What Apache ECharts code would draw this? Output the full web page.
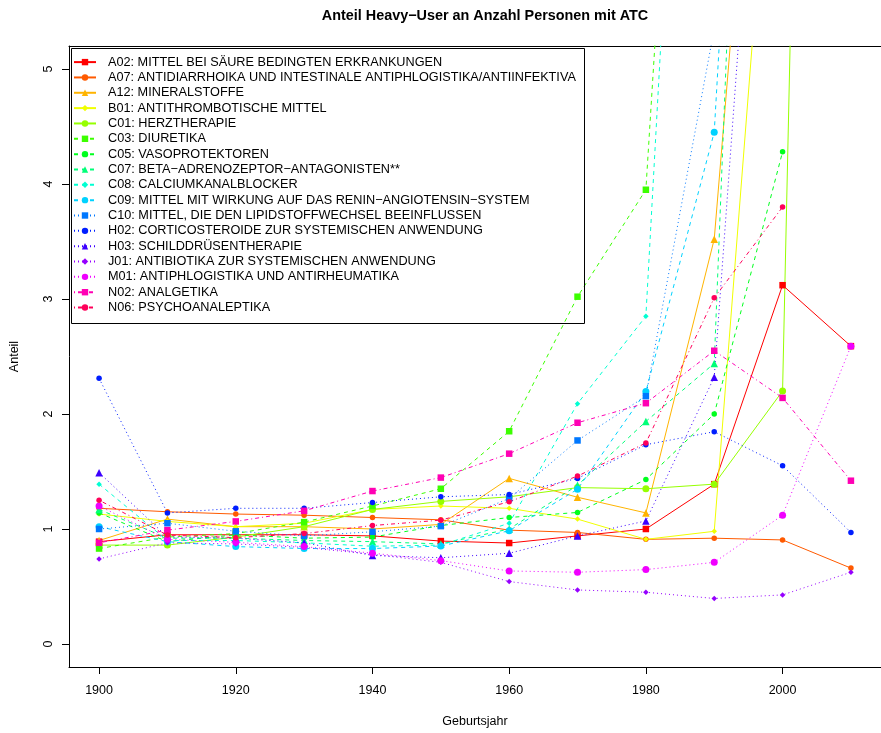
<!DOCTYPE html>
<html><head><meta charset="utf-8">
<script src="https://cdn.jsdelivr.net/npm/echarts@6/dist/echarts.min.js"></script>
<style>html,body{margin:0;padding:0;background:#fff}#c{width:881px;height:733px}</style>
</head><body><div id="c"></div>
<script>
const years = [1900,1910,1920,1930,1940,1950,1960,1970,1980,1990,2000,2010];
const xTicks = [1900,1920,1940,1960,1980,2000];
const yTicks = [0,1,2,3,4,5];
const seriesNames = [
  "A02: MITTEL BEI SÄURE BEDINGTEN ERKRANKUNGEN",
  "A07: ANTIDIARRHOIKA UND INTESTINALE ANTIPHLOGISTIKA/ANTIINFEKTIVA",
  "A12: MINERALSTOFFE",
  "B01: ANTITHROMBOTISCHE MITTEL",
  "C01: HERZTHERAPIE",
  "C03: DIURETIKA",
  "C05: VASOPROTEKTOREN",
  "C07: BETA\u2212ADRENOZEPTOR\u2212ANTAGONISTEN**",
  "C08: CALCIUMKANALBLOCKER",
  "C09: MITTEL MIT WIRKUNG AUF DAS RENIN\u2212ANGIOTENSIN\u2212SYSTEM",
  "C10: MITTEL, DIE DEN LIPIDSTOFFWECHSEL BEEINFLUSSEN",
  "H02: CORTICOSTEROIDE ZUR SYSTEMISCHEN ANWENDUNG",
  "H03: SCHILDDRÜSENTHERAPIE",
  "J01: ANTIBIOTIKA ZUR SYSTEMISCHEN ANWENDUNG",
  "M01: ANTIPHLOGISTIKA UND ANTIRHEUMATIKA",
  "N02: ANALGETIKA",
  "N06: PSYCHOANALEPTIKA"
];
const A02 = [0.89,0.95,0.95,0.95,0.94,0.895,0.878,0.94,1.0,1.39,3.12,2.59];
const A07 = [1.18,1.15,1.13,1.12,1.10,1.08,0.99,0.97,0.91,0.92,0.905,0.66];
const A12 = [0.90,1.086,1.02,1.02,1.0,1.04,1.44,1.276,1.14,3.52,10.7,null];
const B01 = [1.13,1.066,1.02,1.05,1.17,1.20,1.18,1.086,0.91,0.98,8.6,null];
const C01 = [0.86,0.86,0.93,1.02,1.17,1.24,1.28,1.36,1.35,1.39,2.20,29.5];
const C03 = [0.83,0.93,0.96,1.06,1.20,1.35,1.85,3.02,3.95,13.5,null,null];
const C05 = [1.14,0.89,0.95,0.92,0.93,1.03,1.10,1.144,1.43,2.0,4.28,null];
const C07 = [1.17,0.92,0.92,0.90,0.89,0.87,1.0,1.38,1.935,2.44,17.5,null];
const C08 = [1.39,0.90,0.90,0.88,0.85,0.86,1.05,2.09,2.85,13.7,null,null];
const C09 = [1.02,0.89,0.847,0.83,0.83,0.852,0.985,1.346,2.195,4.45,14.8,null];
const C10 = [1.0,1.05,0.98,0.94,0.976,1.025,1.265,1.77,2.155,5.35,null,null];
const H02 = [2.31,1.14,1.18,1.18,1.23,1.28,1.30,1.44,1.733,1.846,1.55,0.97];
const H03 = [1.49,0.93,0.92,0.88,0.77,0.75,0.789,0.94,1.07,2.32,10.5,null];
const J01 = [0.74,0.88,0.87,0.84,0.78,0.71,0.543,0.47,0.45,0.396,0.427,0.624];
const M01 = [1.20,0.91,0.884,0.847,0.79,0.725,0.635,0.624,0.647,0.71,1.12,2.59];
const N02 = [0.88,0.99,1.066,1.158,1.33,1.447,1.655,1.924,2.094,2.55,2.14,1.42];
const N06 = [1.25,0.947,0.925,0.96,1.03,1.077,1.237,1.46,1.748,3.01,3.80,null];
const seriesValues = [A02,A07,A12,B01,C01,C03,C05,C07,C08,C09,C10,H02,H03,J01,M01,N02,N06];

const colors = ['#FF0000','#FF5A00','#FFB400','#F0FF00','#96FF00','#3CFF00','#00FF1E','#00FF78','#00FFD2','#00D2FF','#0078FF','#001EFF','#3C00FF','#9600FF','#F000FF','#FF00B4','#FF005A'];
const dashTypes = [[1], [4,4], [1,3], [1,3,4,3]];
const symbolCycle = ['rect','circle','triangle','diamond','circle'];
const symbolSizeCycle = [6.5,5.5,7.5,5.5,7];
const FONT = '"Liberation Sans", Arial, Helvetica, sans-serif';

const series = seriesValues.map((vals, i) => {
  const lt = Math.floor(i / 5);
  return {
    name: seriesNames[i],
    type: 'line',
    data: years.map((y, k) => [y, vals[k]]),
    symbol: symbolCycle[i % 5],
    symbolSize: symbolSizeCycle[i % 5],
    showSymbol: true,
    connectNulls: false,
    clip: true,
    animation: false,
    color: colors[i],
    itemStyle: { color: colors[i], borderWidth: 0 },
    lineStyle: { color: colors[i], width: 1, type: lt === 0 ? 'solid' : dashTypes[lt] },
    emphasis: { disabled: true }
  };
});

const chart = echarts.init(document.getElementById('c'), null, { renderer: 'canvas' });
chart.setOption({
  backgroundColor: '#ffffff',
  animation: false,
  title: {
    text: 'Anteil Heavy\u2212User an Anzahl Personen mit ATC',
    left: 480, top: 4, textAlign: 'center',
    textStyle: { fontFamily: FONT, fontWeight: 'bold', fontSize: 14.4, color: '#000' }
  },
  grid: { left: 69, top: 46, width: 822, height: 623, containLabel: false },
  xAxis: [{
    type: 'value', min: 1895.6, max: 2014.4, position: 'bottom',
    name: 'Geburtsjahr', nameLocation: 'middle', nameGap: 48,
    nameTextStyle: { fontFamily: FONT, fontSize: 12.5, color: '#000' },
    axisLine: { show: true, onZero: false, lineStyle: { color: '#000', width: 1 } },
    axisTick: { show: true, inside: false, length: 7, lineStyle: { color: '#000' }, customValues: xTicks },
    axisLabel: { show: true, margin: 17, fontFamily: FONT, fontSize: 12.5, color: '#000', customValues: xTicks, formatter: v => String(v) },
    splitLine: { show: false }
  }, {
    type: 'value', min: 1895.6, max: 2014.4, position: 'top',
    axisLine: { show: true, onZero: false, lineStyle: { color: '#000', width: 1 } },
    axisTick: { show: false }, axisLabel: { show: false }, splitLine: { show: false }
  }],
  yAxis: [{
    type: 'value', min: -0.2, max: 5.2, position: 'left',
    name: 'Anteil', nameLocation: 'middle', nameGap: 48, nameRotate: 90,
    nameTextStyle: { fontFamily: FONT, fontSize: 12.5, color: '#000' },
    axisLine: { show: true, onZero: false, lineStyle: { color: '#000', width: 1 } },
    axisTick: { show: true, inside: false, length: 7, lineStyle: { color: '#000' }, customValues: yTicks },
    axisLabel: { show: true, rotate: 90, margin: 14, fontFamily: FONT, fontSize: 12.5, color: '#000', customValues: yTicks, formatter: v => String(v) },
    splitLine: { show: false }
  }],
  legend: {
    orient: 'vertical', left: 73, top: 55.6, padding: 0,
    itemWidth: 22, itemHeight: 8, itemGap: 2.34,
    textStyle: { fontFamily: FONT, fontSize: 12.7, color: '#000', padding: [0,0,0,7] },
    data: seriesNames,
    selectedMode: false
  },
  graphic: [{
    type: 'rect', left: 69, top: 46, z: 100,
    shape: { width: 513, height: 275 },
    style: { fill: 'none', stroke: '#000', lineWidth: 1 }
  }],
  series: series
});
</script>
</body></html>
